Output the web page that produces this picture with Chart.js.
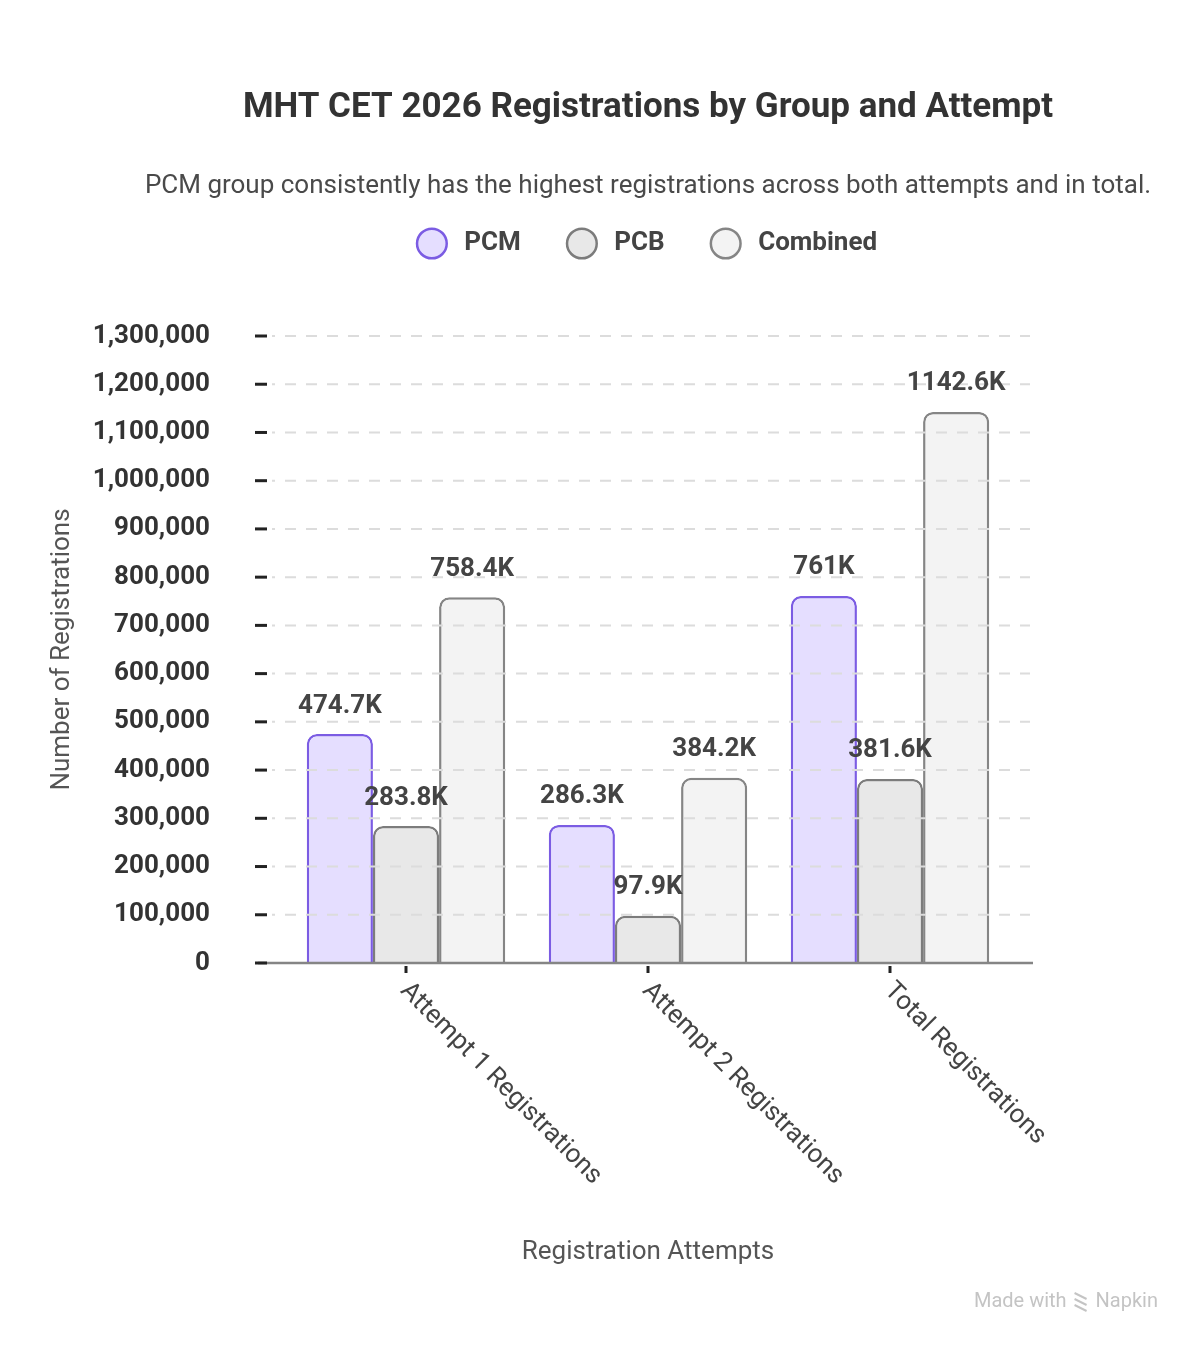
<!DOCTYPE html>
<html><head><meta charset="utf-8">
<script src="https://cdn.jsdelivr.net/npm/chart.js@4.4.1/dist/chart.umd.min.js"></script>
<style>html,body{margin:0;padding:0;background:#fff;} #wrap{width:1200px;height:1350px;position:relative;}</style>
</head><body><div id="wrap"><canvas id="c" width="1200" height="1350"></canvas></div>
<script>
// ---- data ----
const categories = ['Attempt 1 Registrations', 'Attempt 2 Registrations', 'Total Registrations'];
const seriesNames = ['PCM', 'PCB', 'Combined'];
const pcmValues = [474700, 286300, 761000];
const pcbValues = [283800, 97900, 381600];
const combinedValues = [758400, 384200, 1142600];
const yMin = 0;
const yMax = 1300000;
const yStep = 100000;
const chartTitle = 'MHT CET 2026 Registrations by Group and Attempt';
const chartSubtitle = 'PCM group consistently has the highest registrations across both attempts and in total.';
const xAxisTitle = 'Registration Attempts';
const yAxisTitle = 'Number of Registrations';
const watermarkLeft = 'Made with';
const watermarkRight = 'Napkin';

// ---- styles ----
const FONT = 'Roboto';
Chart.defaults.font.family = FONT;
const fills = ['#e5deff', '#e8e8e8', '#f3f3f3'];
const borders = ['#7b5ce3', '#7c7c7c', '#858585'];

function fmtK(v) {
  const k = Math.round(v / 100) / 10;
  return (Number.isInteger(k) ? String(k) : k.toFixed(1)) + 'K';
}

const spacerPlugin = {
  id: 'legendSpacer',
  beforeInit(chart) {
    const box = {
      position: 'top', weight: 100, fullSize: false, options: {},
      left: 0, top: 0, right: 0, bottom: 0, width: 0, height: 0,
      isHorizontal() { return true; },
      update(maxWidth) { this.width = maxWidth; this.height = 69.5; },
      draw() {}
    };
    Chart.layouts.addBox(chart, box);
  },
  afterLayout(chart) {
    // let the centred title texts run wider than the plot area (no squeezing)
    chart.boxes.forEach(b => {
      if (b.options && (b.options.text === chartTitle || b.options.text === chartSubtitle)) {
        const c = (b.left + b.right) / 2;
        b.left = c - 580; b.right = c + 580; b.width = 1160;
      }
    });
  }
};

const axisDecor = {
  id: 'axisDecor',
  afterDatasetsDraw(chart) {
    const { ctx, chartArea: a, scales: { x, y } } = chart;
    ctx.save();
    const y0 = y.getPixelForValue(0);
    y.ticks.forEach(t => {
      if (t.value === 0) return;
      const py = y.getPixelForValue(t.value);
      ctx.setLineDash([11, 10]);
      ctx.lineDashOffset = 8;
      ctx.strokeStyle = '#dcdcdc';
      ctx.lineWidth = 2;
      ctx.beginPath(); ctx.moveTo(a.left - 13, py); ctx.lineTo(a.right + 19, py); ctx.stroke();
    });
    ctx.setLineDash([]);
    ctx.strokeStyle = '#858585';
    ctx.lineWidth = 2.5;
    ctx.beginPath(); ctx.moveTo(a.left - 27, y0); ctx.lineTo(a.right + 22, y0); ctx.stroke();
    ctx.strokeStyle = '#222';
    ctx.lineWidth = 3;
    y.ticks.forEach(t => {
      const py = y.getPixelForValue(t.value);
      ctx.beginPath(); ctx.moveTo(a.left - 30, py); ctx.lineTo(a.left - 18, py); ctx.stroke();
    });
    categories.forEach((c, i) => {
      const px = x.getPixelForValue(i);
      ctx.beginPath(); ctx.moveTo(px, y0 + 3); ctx.lineTo(px, y0 + 10); ctx.stroke();
    });
    ctx.restore();
  }
};

const valueLabels = {
  id: 'valueLabels',
  afterDatasetsDraw(chart) {
    const { ctx } = chart;
    ctx.save();
    ctx.font = 'bold 26px ' + FONT;
    ctx.fillStyle = '#444';
    ctx.textAlign = 'center';
    ctx.textBaseline = 'middle';
    chart.data.datasets.forEach((ds, di) => {
      chart.getDatasetMeta(di).data.forEach((el, i) => {
        ctx.fillText(fmtK(ds.data[i]), el.x, el.y - 28);
      });
    });
    ctx.restore();
  }
};

const xLabels = {
  id: 'xLabels',
  afterDraw(chart) {
    const { ctx, scales: { x, y } } = chart;
    const y0 = y.getPixelForValue(0);
    ctx.save();
    ctx.font = '26px ' + FONT;
    ctx.fillStyle = '#444';
    ctx.textAlign = 'left';
    ctx.textBaseline = 'middle';
    categories.forEach((c, i) => {
      const px = x.getPixelForValue(i);
      ctx.save();
      ctx.translate(px - 2, y0 + 24);
      ctx.rotate(Math.PI / 4);
      ctx.fillText(c, 0, 0);
      ctx.restore();
    });
    // watermark
    ctx.font = '20px ' + FONT;
    ctx.fillStyle = '#c4c4c4';
    ctx.textAlign = 'right';
    ctx.fillText(watermarkRight, 1158, 1302);
    const wr = ctx.measureText(watermarkRight).width;
    const iconRight = 1158 - wr - 7;
    ctx.strokeStyle = '#c4c4c4';
    ctx.lineWidth = 2;
    for (let k = 0; k < 3; k++) {
      ctx.beginPath();
      ctx.moveTo(iconRight - 14, 1293 + k * 6);
      ctx.lineTo(iconRight - 2, 1299 + k * 6);
      ctx.stroke();
    }
    ctx.fillText(watermarkLeft, iconRight - 22, 1302);
    ctx.restore();
  }
};

const ctx = document.getElementById('c').getContext('2d');
new Chart(ctx, {
  type: 'bar',
  data: {
    labels: categories,
    datasets: [pcmValues, pcbValues, combinedValues].map((vals, i) => ({
      label: seriesNames[i],
      data: vals,
      backgroundColor: fills[i],
      borderColor: borders[i],
      borderWidth: 2.5,
      borderRadius: 10,
      borderSkipped: 'bottom',
      categoryPercentage: 0.82,
      barPercentage: 1.0,
      pointStyle: 'circle'
    }))
  },
  options: {
    responsive: false,
    animation: false,
    devicePixelRatio: 1,
    layout: { padding: { top: 0, left: 20, right: 189, bottom: 60 } },
    plugins: {
      title: {
        display: true, text: chartTitle, fullSize: false,
        font: { size: 35, weight: 'bold' }, color: '#333',
        padding: { top: 87, bottom: 41.6 }
      },
      subtitle: {
        display: true, text: chartSubtitle, fullSize: false,
        font: { size: 26 }, color: '#4a4a4a',
        padding: { top: 0, bottom: -19.3 }
      },
      legend: {
        display: true, position: 'top', fullSize: false,
        labels: {
          usePointStyle: true, pointStyle: 'circle', boxHeight: 21,
          padding: 48, color: '#444',
          font: { size: 26, weight: 'bold' },
          generateLabels(chart) {
            return Chart.defaults.plugins.legend.labels.generateLabels(chart)
              .map(l => Object.assign(l, { text: ' ' + l.text }));
          }
        }
      },
      tooltip: { enabled: false }
    },
    scales: {
      x: {
        grid: { display: false, drawTicks: false },
        border: { display: false },
        ticks: { display: false },
        title: { display: true, text: xAxisTitle, color: '#555', font: { size: 26 }, padding: { top: 0, bottom: 22.4 } },
        afterFit(scale) { scale.height = 327; }
      },
      y: {
        min: yMin, max: yMax,
        grid: { display: false, drawTicks: false },
        border: { display: false },
        ticks: {
          stepSize: yStep, padding: 75, color: '#333',
          font: { size: 26, weight: 'bold' },
          callback: v => Number(v).toLocaleString('en-US')
        },
        title: { display: true, text: yAxisTitle, color: '#555', font: { size: 26 }, padding: { top: 26.4, bottom: 0 } },
        afterFit(scale) { scale.width = 265; }
      }
    }
  },
  plugins: [spacerPlugin, axisDecor, valueLabels, xLabels]
});
</script></body></html>
